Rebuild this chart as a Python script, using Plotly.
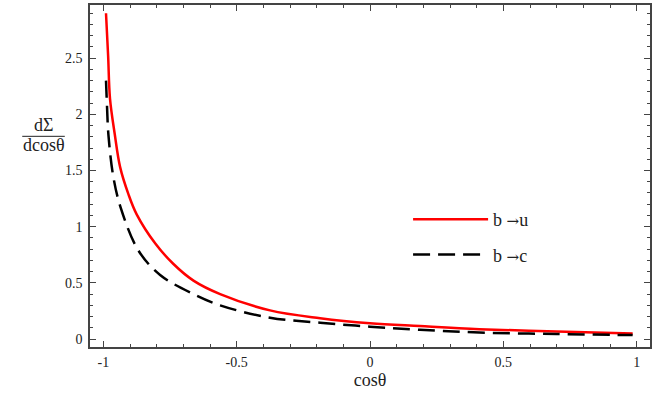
import plotly.graph_objects as go

# b -> u (red, solid)
x_bu = [-0.99, -0.982, -0.975, -0.957, -0.937, -0.906, -0.875, -0.805, -0.738, -0.662, -0.562, -0.375, -0.187, 0.0, 0.187, 0.41, 0.70, 0.985]
y_bu = [2.90, 2.52, 2.14, 1.82, 1.53, 1.29, 1.11, 0.85, 0.67, 0.52, 0.40, 0.255, 0.185, 0.14, 0.115, 0.088, 0.066, 0.05]

# b -> c (black, dashed)
x_bc = [-0.99, -0.986, -0.981, -0.963, -0.935, -0.869, -0.787, -0.662, -0.562, -0.375, -0.187, 0.0, 0.187, 0.41, 0.70, 0.985]
y_bc = [2.30, 2.06, 1.82, 1.45, 1.17, 0.79, 0.57, 0.40, 0.30, 0.19, 0.145, 0.11, 0.082, 0.058, 0.045, 0.035]

x_ticks = [-1, -0.5, 0, 0.5, 1]
x_ticklabels = ["-1", "-0.5", "0", "0.5", "1"]
y_ticks = [0, 0.5, 1, 1.5, 2, 2.5]
y_ticklabels = ["0", "0.5", "1", "1.5", "2", "2.5"]

FONT = "Liberation Serif"
TXT = "#222"
ARROW = "<span style='font-family:DejaVu Serif;font-size:15px'>\u2192</span>"

fig = go.Figure()
fig.add_trace(go.Scatter(x=x_bu, y=y_bu, mode="lines", name="b " + ARROW + "u", legendgroup="u",
                         line=dict(color="#ff0000", width=2.5, shape="spline", smoothing=1.0)))
fig.add_trace(go.Scatter(x=x_bc, y=y_bc, mode="lines", name="b " + ARROW + "c", legendgroup="c",
                         line=dict(color="black", width=2.5, dash="17px,8px", shape="spline", smoothing=1.0)))

axis_common = dict(
    showline=True, linecolor="#444", linewidth=1.5, mirror="allticks",
    ticks="inside", ticklen=6, tickcolor="#444", tickwidth=1,
    showgrid=False, zeroline=False,
    tickfont=dict(family=FONT, size=14, color=TXT),
    minor=dict(ticks="inside", ticklen=3, tickcolor="#444", showgrid=False, dtick=0.1, tick0=0),
)

fig.update_xaxes(range=[-1.05, 1.05], tickvals=x_ticks, ticktext=x_ticklabels, ticklabelstandoff=1,
                 title=dict(text="cos\u03b8", font=dict(family=FONT, size=18, color=TXT), standoff=2),
                 **axis_common)
fig.update_yaxes(range=[-0.071, 2.973], tickvals=y_ticks, ticktext=y_ticklabels, ticklabelstandoff=3,
                 **axis_common)

# y-axis label drawn as a fraction
fig.add_annotation(text="d\u03a3", xref="paper", yref="paper", x=-0.083, y=0.648,
                   showarrow=False, font=dict(family=FONT, size=18, color=TXT), xanchor="center", yanchor="middle")
fig.add_annotation(text="dcos\u03b8", xref="paper", yref="paper", x=-0.083, y=0.592,
                   showarrow=False, font=dict(family=FONT, size=18, color=TXT), xanchor="center", yanchor="middle")
fig.add_shape(type="line", xref="paper", yref="paper", x0=-0.121, x1=-0.045, y0=0.616, y1=0.616,
              line=dict(color=TXT, width=1))

fig.update_layout(
    width=658, height=398,
    margin=dict(l=90, r=8, t=3, b=51),
    paper_bgcolor="white", plot_bgcolor="white",
    font=dict(family=FONT, color=TXT),
    legend=dict(x=0.568, y=0.427, xanchor="left", yanchor="top", bgcolor="rgba(0,0,0,0)",
                font=dict(family=FONT, size=18, color=TXT), tracegroupgap=9, itemwidth=75),
    showlegend=True,
)

fig.write_html("out.html", config={"displayModeBar": False},
               post_script="document.body.style.margin='0';")
